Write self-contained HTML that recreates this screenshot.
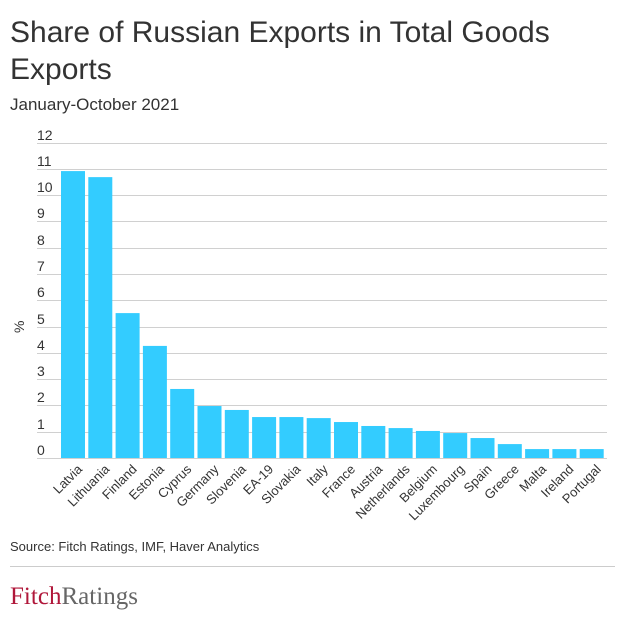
<!DOCTYPE html>
<html><head><meta charset="utf-8"><style>
body{margin:0;background:#fff;width:625px;height:625px;overflow:hidden;font-family:"Liberation Sans",sans-serif}
</style></head><body>
<svg width="625" height="625" xmlns="http://www.w3.org/2000/svg" font-family="Liberation Sans, sans-serif">
<text x="10" y="42" font-size="30" fill="#333">Share of Russian Exports in Total Goods</text>
<text x="10" y="79" font-size="30" fill="#333">Exports</text>
<text x="10" y="110" font-size="17" fill="#333">January-October 2021</text>
<g stroke="#d0d0d0" stroke-width="1">
<line x1="37" x2="607" y1="143.5" y2="143.5"/><line x1="37" x2="607" y1="169.5" y2="169.5"/><line x1="37" x2="607" y1="195.5" y2="195.5"/><line x1="37" x2="607" y1="221.5" y2="221.5"/><line x1="37" x2="607" y1="248.5" y2="248.5"/><line x1="37" x2="607" y1="274.5" y2="274.5"/><line x1="37" x2="607" y1="300.5" y2="300.5"/><line x1="37" x2="607" y1="327.5" y2="327.5"/><line x1="37" x2="607" y1="353.5" y2="353.5"/><line x1="37" x2="607" y1="379.5" y2="379.5"/><line x1="37" x2="607" y1="405.5" y2="405.5"/><line x1="37" x2="607" y1="432.5" y2="432.5"/><line x1="37" x2="607" y1="458.5" y2="458.5"/>
</g>
<g font-size="14" fill="#333">
<text x="37" y="140">12</text><text x="37" y="166">11</text><text x="37" y="192">10</text><text x="37" y="218">9</text><text x="37" y="245">8</text><text x="37" y="271">7</text><text x="37" y="297">6</text><text x="37" y="324">5</text><text x="37" y="350">4</text><text x="37" y="376">3</text><text x="37" y="402">2</text><text x="37" y="429">1</text><text x="37" y="455">0</text>
<text transform="translate(24,333) rotate(-90)">%</text>
</g>
<g id="bars" fill="#33ccff"></g>
<g id="labels" font-size="13" fill="#333"></g>
<line x1="10" x2="615" y1="566.5" y2="566.5" stroke="#ccc"/>
<text x="10" y="551" font-size="13" fill="#333">Source: Fitch Ratings, IMF, Haver Analytics</text>
<text x="10" y="604" font-size="25" font-family="Liberation Serif, serif" fill="#b0173a" textLength="128">Fitch<tspan fill="#666">Ratings</tspan></text>
<script>
var d=[["Latvia",10.93],["Lithuania",10.7],["Finland",5.52],["Estonia",4.27],["Cyprus",2.63],["Germany",1.98],["Slovenia",1.83],["EA-19",1.56],["Slovakia",1.56],["Italy",1.52],["France",1.37],["Austria",1.22],["Netherlands",1.14],["Belgium",1.03],["Luxembourg",0.95],["Spain",0.76],["Greece",0.53],["Malta",0.34],["Ireland",0.34],["Portugal",0.34]];
var b=document.getElementById("bars"),l=document.getElementById("labels"),ns="http://www.w3.org/2000/svg";
d.forEach(function(e,i){var x=61+i*27.3,h=e[1]*26.25;
var r=document.createElementNS(ns,"rect");r.setAttribute("x",x);r.setAttribute("y",458-h);r.setAttribute("width",24);r.setAttribute("height",h);b.appendChild(r);
var t=document.createElementNS(ns,"text");t.setAttribute("text-anchor","end");t.setAttribute("transform","translate("+(x+22)+",470) rotate(-45)");t.textContent=e[0];l.appendChild(t);});
</script>
</svg>
</body></html>
